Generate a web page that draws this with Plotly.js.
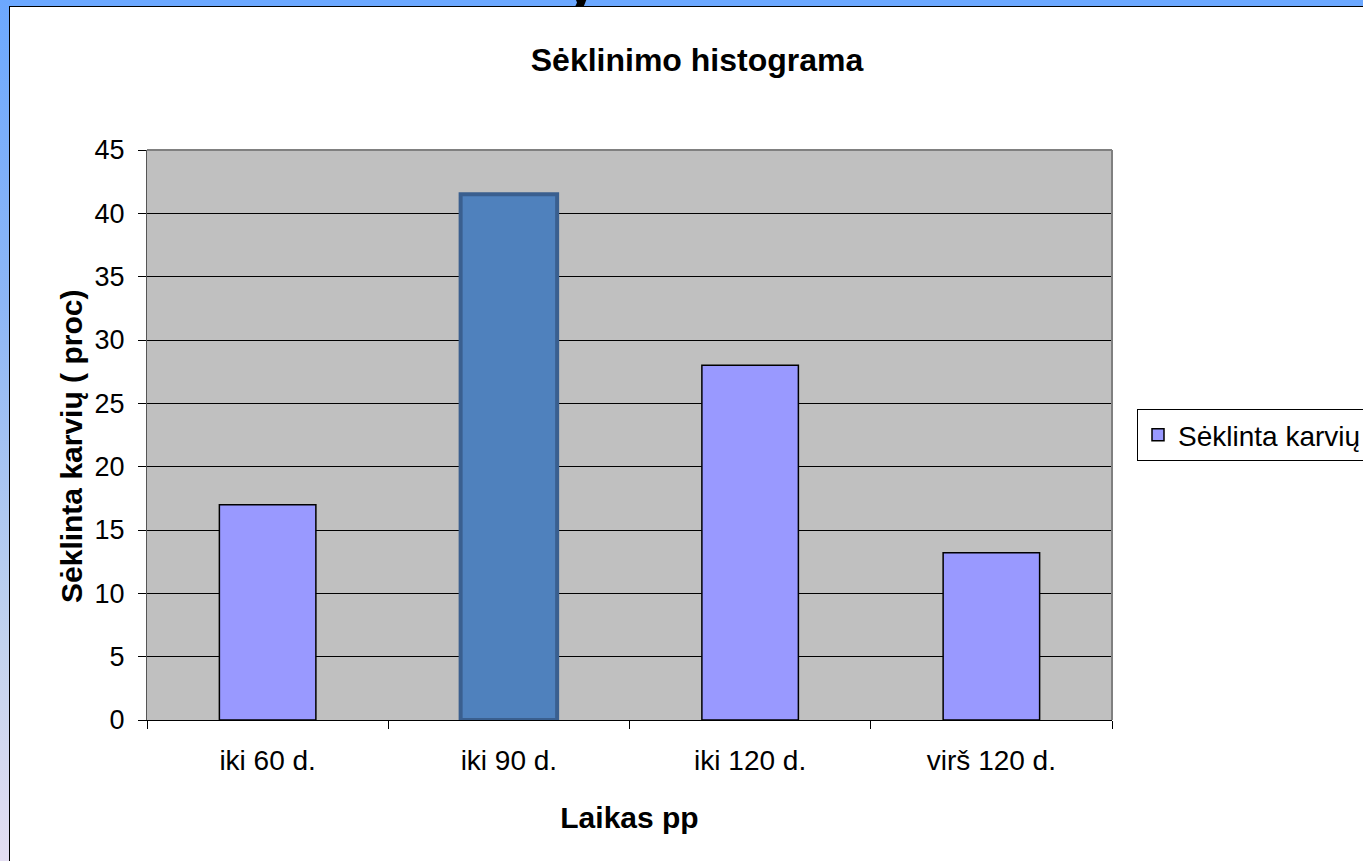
<!DOCTYPE html>
<html>
<head>
<meta charset="utf-8">
<script src="https://cdn.plot.ly/plotly-3.0.1.min.js"></script>
<style>
  html, body { margin:0; padding:0; width:1363px; height:861px; overflow:hidden; background:#fff; }
  #topband { position:absolute; left:0; top:0; width:1363px; height:6px; background:#6CA8FF; overflow:hidden; }
  #leftband { position:absolute; left:0; top:0; width:9px; height:861px;
    background:linear-gradient(to bottom, #6CA8FF 0%, #8DB6F6 35%, #C3D3EE 75%, #E4DEF2 100%); }
  #frame { position:absolute; left:9px; top:6px; width:1354px; height:855px; background:#fff;
    border-left:1px solid #000; border-top:1px solid #000; box-sizing:border-box; }
  #clip { position:absolute; left:564px; top:-52px; font:bold 60px "Liberation Sans", Arial, sans-serif; color:#000; }
  #chart { position:absolute; left:0; top:0; width:1363px; height:861px; }
</style>
</head>
<body>
<div id="topband"><div id="clip">y</div></div>
<div id="leftband"></div>
<div id="frame"></div>
<div id="chart"></div>
<script>
const categories = ["iki 60 d.", "iki 90 d.", "iki 120 d.", "virš 120 d."];
const values = [17, 41.5, 28, 13.2];
const seriesName = "Sėklinta karvių";
const chartTitle = "Sėklinimo histograma";
const xTitle = "Laikas pp";
const yTitle = "Sėklinta karvių ( proc)";
const yTicks = [0, 5, 10, 15, 20, 25, 30, 35, 40, 45];

const barColors = ["#9999FF", "#4F81BD", "#9999FF", "#9999FF"];
const lineColors = ["#000000", "#3A5F8F", "#000000", "#000000"];
const lineWidths = [1.5, 4, 1.5, 1.5];

const font = "Liberation Sans, Arial, sans-serif";

const trace = {
  type: "bar",
  x: categories,
  y: values,
  name: seriesName,
  showlegend: true,
  marker: { color: barColors, line: { color: lineColors, width: lineWidths } },
  hoverinfo: "none"
};

const layout = {
  width: 1363, height: 861,
  margin: { l: 147, r: 251, t: 150, b: 141, autoexpand: false },
  paper_bgcolor: "rgba(0,0,0,0)",
  plot_bgcolor: "#C0C0C0",
  bargap: 0.6,
  font: { family: font, color: "#000" },
  title: {
    text: "<b>" + chartTitle + "</b>",
    font: { family: font, size: 32, color: "#000" },
    xref: "container", x: 697 / 1363, xanchor: "center",
    yref: "container", y: 1 - 60 / 861, yanchor: "middle"
  },
  xaxis: {
    type: "category",
    tickson: "boundaries",
    ticks: "outside", ticklen: 8, tickcolor: "#000", tickwidth: 1,
    showline: true, linecolor: "#000", linewidth: 1,
    showgrid: false, zeroline: false,
    tickfont: { family: font, size: 28, color: "#000" },
    ticklabelstandoff: 15,
    title: { text: "<b>" + xTitle + "</b>", font: { family: font, size: 30, color: "#000" }, standoff: 32 },
    automargin: false
  },
  yaxis: {
    range: [0, 45],
    tickvals: yTicks,
    ticks: "outside", ticklen: 8, tickcolor: "#000", tickwidth: 1,
    showline: true, linecolor: "#555", linewidth: 1,
    showgrid: true, gridcolor: "#000", gridwidth: 1,
    zeroline: false,
    tickfont: { family: font, size: 27, color: "#000" },
    ticklabelstandoff: 8,
    automargin: false
  },
  annotations: [
    { text: "<b>" + yTitle + "</b>", xref: "paper", yref: "paper",
      x: (71 - 147) / 965, y: (720 - 447) / 570, xanchor: "center", yanchor: "middle",
      textangle: -90, showarrow: false, font: { family: font, size: 30, color: "#000" } }
  ],
  legend: {
    xref: "container", x: 1137 / 1363, xanchor: "left",
    yref: "container", y: 1 - 435 / 861, yanchor: "middle",
    bgcolor: "#fff", bordercolor: "#000", borderwidth: 1,
    font: { family: font, size: 28, color: "#000" }
  },
  shapes: [
    { type: "line", xref: "paper", yref: "paper", x0: 0, x1: 1, y0: 1, y1: 1, line: { color: "#808080", width: 2 }, layer: "above" },
    { type: "line", xref: "paper", yref: "paper", x0: 1, x1: 1, y0: 0, y1: 1, line: { color: "#808080", width: 2 }, layer: "above" }
  ]
};

Plotly.newPlot("chart", [trace], layout, { displayModeBar: false, staticPlot: true });
</script>
</body>
</html>
